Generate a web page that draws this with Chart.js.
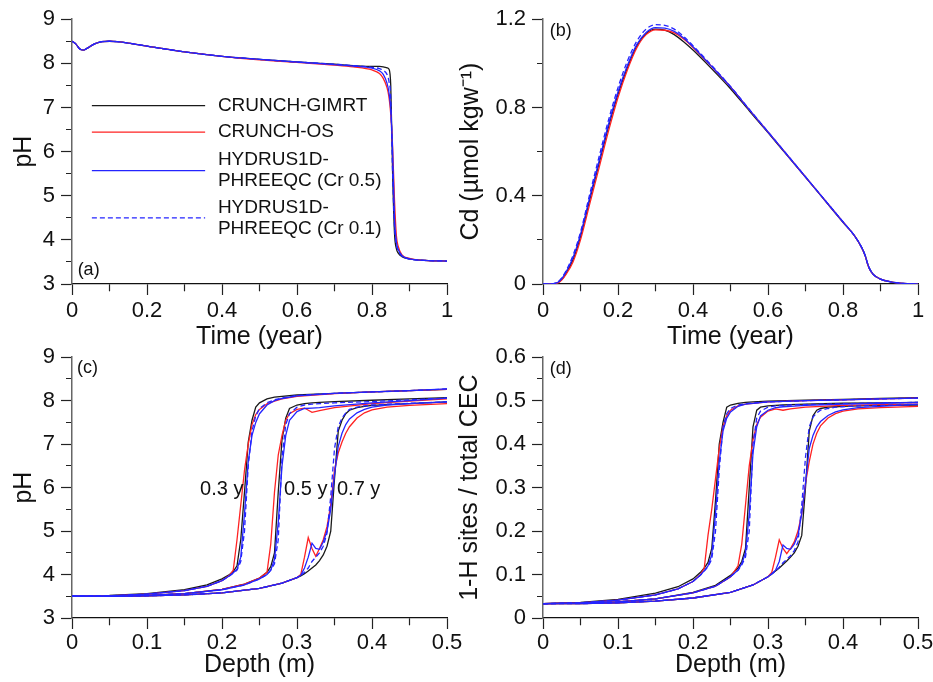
<!DOCTYPE html>
<html>
<head>
<meta charset="utf-8">
<script src="https://cdn.jsdelivr.net/npm/chart.js@4.4.1/dist/chart.umd.min.js"></script>
<style>
  html, body { margin: 0; padding: 0; background: #fff; width: 933px; height: 682px; overflow: hidden; }
  canvas { position: absolute; }
</style>
</head>
<body>
<canvas id="pa" width="466" height="352" style="left:0;top:0"></canvas>
<canvas id="pb" width="490" height="352" style="left:455px;top:0"></canvas>
<canvas id="pc" width="466" height="344" style="left:0;top:338px"></canvas>
<canvas id="pd" width="490" height="344" style="left:455px;top:338px"></canvas>
<script>
// ---- (a) pH vs time ----
const timeA = [0, 0.01, 0.02, 0.03, 0.04, 0.06, 0.08, 0.1, 0.12, 0.15, 0.2, 0.3, 0.4, 0.5, 0.6,
               0.7, 0.75, 0.8, 0.82, 0.83, 0.84, 0.845, 0.85, 0.855, 0.86, 0.865, 0.87, 0.88, 0.9, 0.95, 1.0];
const phA_gimrt = [8.50, 8.44, 8.33, 8.30, 8.34, 8.44, 8.49, 8.50, 8.49, 8.46, 8.39, 8.26, 8.16, 8.09, 8.03,
                   7.98, 7.95, 7.93, 7.93, 7.92, 7.90, 7.87, 7.5, 5.5, 4.15, 3.8, 3.7, 3.62, 3.57, 3.53, 3.52];
const phA_os    = [8.50, 8.44, 8.33, 8.30, 8.34, 8.44, 8.49, 8.50, 8.49, 8.46, 8.39, 8.26, 8.16, 8.08, 8.02,
                   7.96, 7.92, 7.85, 7.77, 7.66, 7.45, 7.25, 6.85, 6.1, 4.9, 4.1, 3.85, 3.66, 3.58, 3.53, 3.52];
const phA_cr05  = [8.50, 8.44, 8.33, 8.30, 8.34, 8.44, 8.49, 8.50, 8.49, 8.46, 8.39, 8.26, 8.16, 8.09, 8.03,
                   7.97, 7.94, 7.89, 7.83, 7.75, 7.55, 7.35, 6.95, 6.0, 4.5, 3.95, 3.78, 3.64, 3.57, 3.53, 3.52];
const phA_cr01  = [8.50, 8.44, 8.33, 8.30, 8.34, 8.44, 8.49, 8.50, 8.49, 8.46, 8.39, 8.26, 8.16, 8.09, 8.03,
                   7.98, 7.95, 7.91, 7.88, 7.84, 7.75, 7.6, 7.2, 5.5, 4.3, 3.9, 3.75, 3.63, 3.57, 3.53, 3.52];

// ---- (b) Cd vs time ----
const timeB = [0, 0.02, 0.03, 0.04, 0.05, 0.06, 0.08, 0.1, 0.125, 0.15, 0.175, 0.2, 0.225, 0.25, 0.275, 0.3,
               0.325, 0.35, 0.375, 0.4, 0.45, 0.5, 0.55, 0.6, 0.65, 0.7, 0.75, 0.8, 0.83, 0.85, 0.86, 0.865,
               0.87, 0.88, 0.9, 0.93, 0.96, 1.0];
const cdB_gimrt = [0, 0, 0.001, 0.006, 0.02, 0.045, 0.11, 0.215, 0.385, 0.55, 0.715, 0.86, 0.98, 1.078, 1.135, 1.155,
                   1.15, 1.13, 1.098, 1.06, 0.975, 0.885, 0.785, 0.686, 0.585, 0.484, 0.382, 0.28, 0.22, 0.165, 0.125, 0.095,
                   0.072, 0.045, 0.022, 0.009, 0.003, 0];
const cdB_os    = [0, 0, 0.001, 0.005, 0.018, 0.04, 0.1, 0.2, 0.365, 0.53, 0.695, 0.845, 0.97, 1.07, 1.13, 1.152,
                   1.15, 1.138, 1.11, 1.072, 0.985, 0.893, 0.79, 0.689, 0.587, 0.485, 0.383, 0.281, 0.22, 0.163, 0.123, 0.093,
                   0.07, 0.044, 0.022, 0.009, 0.003, 0];
const cdB_cr05  = [0, 0, 0.002, 0.008, 0.025, 0.05, 0.12, 0.225, 0.395, 0.56, 0.725, 0.87, 0.99, 1.085, 1.14, 1.162,
                   1.16, 1.145, 1.115, 1.075, 0.985, 0.893, 0.79, 0.689, 0.587, 0.485, 0.383, 0.281, 0.22, 0.165, 0.125, 0.095,
                   0.072, 0.045, 0.022, 0.009, 0.003, 0];
const cdB_cr01  = [0, 0, 0.003, 0.01, 0.028, 0.055, 0.13, 0.235, 0.41, 0.58, 0.745, 0.89, 1.01, 1.1, 1.155, 1.175,
                   1.172, 1.155, 1.122, 1.08, 0.99, 0.895, 0.792, 0.69, 0.588, 0.486, 0.384, 0.282, 0.22, 0.165, 0.125, 0.095,
                   0.072, 0.045, 0.022, 0.009, 0.003, 0];

// ---- depth grids for (c) and (d) ----
const depth03 = [0, 0.05, 0.1, 0.15, 0.18, 0.2, 0.21, 0.215, 0.22, 0.225, 0.23, 0.235, 0.24, 0.245, 0.25, 0.26,
                 0.27, 0.28, 0.3, 0.35, 0.4, 0.45, 0.5];
const depth05 = [0, 0.05, 0.1, 0.15, 0.2, 0.23, 0.25, 0.26, 0.265, 0.27, 0.275, 0.28, 0.285, 0.29, 0.3, 0.31,
                 0.32, 0.33, 0.35, 0.4, 0.45, 0.5];
const depth07 = [0, 0.05, 0.1, 0.15, 0.2, 0.25, 0.28, 0.3, 0.305, 0.31, 0.315, 0.32, 0.325, 0.33, 0.335, 0.34,
                 0.345, 0.35, 0.355, 0.36, 0.365, 0.37, 0.38, 0.39, 0.4, 0.42, 0.45, 0.5];

// ---- (c) pH profiles ----
const phC03_gimrt = [3.50, 3.52, 3.56, 3.65, 3.76, 3.90, 4.00, 4.07, 4.20, 4.8, 5.9, 7.05, 7.55, 7.85, 7.95, 8.04,
                     8.08, 8.10, 8.13, 8.17, 8.20, 8.23, 8.26];
const phC03_os    = [3.50, 3.51, 3.55, 3.63, 3.73, 3.86, 3.98, 4.10, 4.8, 5.6, 6.4, 7.0, 7.45, 7.68, 7.8, 7.93,
                     7.99, 8.04, 8.10, 8.16, 8.20, 8.23, 8.26];
const phC03_cr05  = [3.50, 3.51, 3.55, 3.63, 3.73, 3.86, 3.97, 4.04, 4.12, 4.4, 5.4, 6.6, 7.2, 7.5, 7.7, 7.9,
                     8.0, 8.05, 8.11, 8.17, 8.20, 8.23, 8.27];
const phC03_cr01  = [3.50, 3.51, 3.55, 3.63, 3.73, 3.86, 3.97, 4.03, 4.1, 4.3, 5.0, 6.5, 7.3, 7.65, 7.82, 7.95,
                     8.02, 8.06, 8.12, 8.17, 8.20, 8.23, 8.27];
const phC05_gimrt = [3.50, 3.50, 3.52, 3.56, 3.66, 3.78, 3.92, 4.05, 4.18, 4.5, 5.9, 7.1, 7.6, 7.82, 7.9, 7.93,
                     7.95, 7.96, 7.98, 8.01, 8.04, 8.07];
const phC05_os    = [3.50, 3.50, 3.52, 3.56, 3.66, 3.78, 3.92, 4.05, 4.7, 5.9, 6.75, 7.2, 7.55, 7.7, 7.8, 7.83,
                     7.73, 7.77, 7.84, 7.93, 7.99, 8.04];
const phC05_cr05  = [3.50, 3.50, 3.52, 3.56, 3.65, 3.76, 3.9, 4.0, 4.1, 4.35, 5.2, 6.5, 7.2, 7.55, 7.75, 7.82,
                     7.83, 7.84, 7.88, 7.95, 8.0, 8.06];
const phC05_cr01  = [3.50, 3.50, 3.52, 3.56, 3.65, 3.76, 3.9, 4.0, 4.1, 4.25, 4.8, 6.7, 7.45, 7.7, 7.85, 7.9,
                     7.92, 7.93, 7.95, 7.98, 8.02, 8.06];
const phC07_gimrt = [3.50, 3.50, 3.51, 3.53, 3.58, 3.68, 3.80, 3.93, 3.97, 4.02, 4.08, 4.15, 4.22, 4.32, 4.45, 4.65,
                     5.0, 6.2, 7.3, 7.55, 7.7, 7.78, 7.84, 7.87, 7.89, 7.91, 7.93, 7.97];
const phC07_os    = [3.50, 3.50, 3.51, 3.53, 3.58, 3.68, 3.80, 3.93, 4.0, 4.4, 4.85, 4.6, 4.42, 4.6, 4.8, 5.1,
                     5.6, 6.4, 6.8, 7.05, 7.25, 7.4, 7.6, 7.72, 7.79, 7.85, 7.89, 7.93];
const phC07_cr05  = [3.50, 3.50, 3.51, 3.53, 3.58, 3.68, 3.80, 3.93, 3.98, 4.15, 4.4, 4.72, 4.6, 4.58, 4.75, 5.0,
                     5.5, 6.3, 6.95, 7.25, 7.45, 7.58, 7.72, 7.8, 7.85, 7.9, 7.93, 7.97];
const phC07_cr01  = [3.50, 3.50, 3.51, 3.53, 3.58, 3.68, 3.80, 3.93, 3.98, 4.05, 4.15, 4.3, 4.4, 4.5, 4.65, 4.95,
                     5.8, 6.9, 7.4, 7.6, 7.72, 7.8, 7.85, 7.88, 7.9, 7.92, 7.94, 7.97];

// ---- (d) 1-H sites / total CEC profiles ----
const hD03_gimrt = [0.033, 0.036, 0.043, 0.057, 0.072, 0.090, 0.105, 0.115, 0.128, 0.16, 0.27, 0.40, 0.45, 0.485, 0.49, 0.494,
                    0.496, 0.497, 0.499, 0.501, 0.503, 0.505, 0.507];
const hD03_os    = [0.033, 0.035, 0.041, 0.053, 0.067, 0.084, 0.100, 0.115, 0.19, 0.25, 0.32, 0.39, 0.44, 0.465, 0.478, 0.488,
                    0.492, 0.494, 0.497, 0.500, 0.502, 0.504, 0.506];
const hD03_cr05  = [0.033, 0.035, 0.041, 0.053, 0.067, 0.084, 0.099, 0.109, 0.12, 0.145, 0.24, 0.36, 0.43, 0.46, 0.474, 0.487,
                    0.492, 0.494, 0.497, 0.500, 0.502, 0.504, 0.506];
const hD03_cr01  = [0.033, 0.035, 0.041, 0.053, 0.067, 0.084, 0.099, 0.108, 0.118, 0.135, 0.2, 0.34, 0.44, 0.47, 0.482, 0.49,
                    0.493, 0.495, 0.497, 0.500, 0.502, 0.504, 0.506];
const hD05_gimrt = [0.033, 0.034, 0.037, 0.044, 0.059, 0.075, 0.098, 0.115, 0.13, 0.16, 0.30, 0.44, 0.478, 0.485, 0.488, 0.489,
                    0.49, 0.491, 0.492, 0.494, 0.495, 0.496];
const hD05_os    = [0.033, 0.034, 0.037, 0.044, 0.058, 0.073, 0.094, 0.12, 0.17, 0.26, 0.35, 0.41, 0.445, 0.462, 0.476, 0.481,
                    0.478, 0.481, 0.485, 0.489, 0.491, 0.492];
const hD05_cr05  = [0.033, 0.034, 0.037, 0.044, 0.058, 0.073, 0.095, 0.11, 0.125, 0.15, 0.24, 0.38, 0.44, 0.465, 0.478, 0.484,
                    0.486, 0.487, 0.489, 0.492, 0.494, 0.496];
const hD05_cr01  = [0.033, 0.034, 0.037, 0.044, 0.058, 0.073, 0.095, 0.11, 0.122, 0.14, 0.2, 0.4, 0.46, 0.476, 0.485, 0.488,
                    0.489, 0.49, 0.491, 0.493, 0.495, 0.496];
const hD07_gimrt = [0.033, 0.033, 0.035, 0.039, 0.046, 0.059, 0.076, 0.095, 0.101, 0.108, 0.115, 0.123, 0.131, 0.14, 0.15, 0.165,
                    0.19, 0.30, 0.43, 0.465, 0.478, 0.482, 0.485, 0.486, 0.487, 0.488, 0.489, 0.49];
const hD07_os    = [0.033, 0.033, 0.035, 0.039, 0.046, 0.059, 0.076, 0.095, 0.105, 0.14, 0.18, 0.16, 0.148, 0.16, 0.175, 0.2,
                    0.24, 0.31, 0.36, 0.40, 0.425, 0.442, 0.46, 0.47, 0.476, 0.481, 0.484, 0.487];
const hD07_cr05  = [0.033, 0.033, 0.035, 0.039, 0.046, 0.059, 0.076, 0.095, 0.102, 0.11, 0.13, 0.168, 0.16, 0.158, 0.17, 0.19,
                    0.24, 0.31, 0.39, 0.42, 0.44, 0.452, 0.466, 0.474, 0.479, 0.484, 0.487, 0.492];
const hD07_cr01  = [0.033, 0.033, 0.035, 0.039, 0.046, 0.059, 0.076, 0.095, 0.101, 0.108, 0.117, 0.127, 0.135, 0.143, 0.155, 0.175,
                    0.26, 0.37, 0.44, 0.462, 0.472, 0.478, 0.482, 0.485, 0.486, 0.488, 0.489, 0.491];

const modelNames = [["CRUNCH-GIMRT"], ["CRUNCH-OS"], ["HYDRUS1D-", "PHREEQC (Cr 0.5)"], ["HYDRUS1D-", "PHREEQC (Cr 0.1)"]];

// ---- styling ----
const FONT = "'Liberation Sans', Arial, Helvetica, sans-serif";
Chart.defaults.font.family = FONT;
Chart.defaults.color = "#111";

const STYLES = [
    { color: "#1a1a1a", dash: [],     order: 3 },   // GIMRT
    { color: "#ff2222", dash: [],     order: 2 },   // OS
    { color: "#2424ff", dash: [],     order: 0 },   // Cr 0.5
    { color: "#2424ff", dash: [5, 3], order: 1 },   // Cr 0.1
];

function series(xs, ys, k, smooth) {
    const s = STYLES[k];
    return {
        data: xs.map((x, i) => ({ x, y: ys[i] })),
        borderColor: s.color, borderDash: s.dash, order: s.order,
        borderWidth: 1.3, pointRadius: 0, fill: false,
        cubicInterpolationMode: smooth ? "monotone" : "default", tension: 0,
    };
}

const isMul = (v, m) => Math.abs(v / m - Math.round(v / m)) < 1e-6;
const fmt = v => String(Math.round(v * 1000) / 1000);

function xScale(max, step, major, height, title, labelPad, titlePad) {
    return {
        type: "linear", min: 0, max,
        afterFit: s => { s.height = height; },
        ticks: { stepSize: step, autoSkip: false, maxRotation: 0, padding: labelPad, color: "#111",
                 font: { size: 22 }, callback: v => (isMul(v, major) ? fmt(v) : "") },
        grid: { drawOnChartArea: false, tickLength: 11, tickWidth: 1.2, tickColor: "#222",
                tickBorderDash: c => (c.tick && !isMul(c.tick.value, major) ? [7, 100] : []) },
        border: { color: "#111", width: 1.3 },
        title: { display: true, text: title, color: "#111", font: { size: 25 },
                 padding: { top: 0, bottom: titlePad } },
    };
}

function yScale(min, max, step, major, width, title, titlePad) {
    return {
        type: "linear", min, max,
        afterFit: s => { s.width = width; },
        ticks: { stepSize: step, autoSkip: false, padding: 6, color: "#111",
                 font: { size: 22 }, callback: v => (isMul(v, major) ? fmt(v) : "") },
        grid: { drawOnChartArea: false, tickLength: 11, tickWidth: 1.2, tickColor: "#222",
                tickBorderDash: c => (c.tick && !isMul(c.tick.value, major) ? [0, 5, 7, 100] : []) },
        border: { color: "#666", width: 1.5 },
        title: { display: true, text: title, color: "#111", font: { size: 25 },
                 padding: { top: titlePad, bottom: 0 } },
    };
}

// text notes and the hand-drawn legend, placed in data units
const notesPlugin = {
    id: "notes",
    afterDatasetsDraw(chart, args, opts) {
        const { ctx, scales: { x, y } } = chart;
        ctx.save();
        ctx.fillStyle = "#111";
        ctx.textAlign = "left";
        ctx.textBaseline = "middle";
        for (const n of opts.items || []) {
            ctx.font = `${n.size}px ${FONT}`;
            ctx.fillText(n.text, x.getPixelForValue(n.x), y.getPixelForValue(n.y));
        }
        const lg = opts.legend;
        if (lg) {
            const x0 = x.getPixelForValue(lg.x0), x1 = x.getPixelForValue(lg.x1), xt = x.getPixelForValue(lg.xt);
            ctx.font = `19px ${FONT}`;
            lg.rows.forEach((yv, k) => {
                const py = y.getPixelForValue(yv);
                ctx.save();
                ctx.strokeStyle = STYLES[k].color;
                ctx.lineWidth = 1.2;
                ctx.setLineDash(STYLES[k].dash);
                ctx.beginPath(); ctx.moveTo(x0, py); ctx.lineTo(x1, py); ctx.stroke();
                ctx.restore();
                const lines = modelNames[k];
                lines.forEach((t, j) => {
                    const off = (j - (lines.length - 1) / 2) * 21;
                    ctx.fillText(t, xt, py + off);
                });
            });
        }
        ctx.restore();
    },
};

function makeChart(id, datasets, pad, scales, notes) {
    new Chart(document.getElementById(id), {
        type: "line",
        data: { datasets },
        options: {
            responsive: false, animation: false, devicePixelRatio: 1,
            layout: { padding: pad },
            plugins: { legend: { display: false }, tooltip: { enabled: false }, notes },
            scales,
        },
        plugins: [notesPlugin],
    });
}

// (a)
makeChart("pa",
    [phA_gimrt, phA_os, phA_cr05, phA_cr01].map((ys, k) => series(timeA, ys, k, true)),
    { top: 18, right: 19, left: 0, bottom: 0 },
    { x: xScale(1, 0.1, 0.2, 68, "Time (year)", 3, 0),
      y: yScale(3, 9, 0.5, 1, 72, "pH", 9) },
    { items: [{ text: "(a)", x: 0.015, y: 3.32, size: 18 }],
      legend: { x0: 0.053, x1: 0.355, xt: 0.389, rows: [7.04, 6.44, 5.57, 4.50] } });

// (b)
makeChart("pb",
    [cdB_gimrt, cdB_os, cdB_cr05, cdB_cr01].map((ys, k) => series(timeB, ys, k, true)),
    { top: 19, right: 27, left: 0, bottom: 0 },
    { x: xScale(1, 0.1, 0.2, 68, "Time (year)", 3, 0),
      y: yScale(0, 1.2, 0.2, 0.4, 88, "Cd (µmol kgw⁻¹)", 1) },
    { items: [{ text: "(b)", x: 0.018, y: 1.148, size: 18 }] });

// (c)
const cSets = [];
[[depth03, [phC03_gimrt, phC03_os, phC03_cr05, phC03_cr01]],
 [depth05, [phC05_gimrt, phC05_os, phC05_cr05, phC05_cr01]],
 [depth07, [phC07_gimrt, phC07_os, phC07_cr05, phC07_cr01]]]
    .forEach(([xs, list]) => list.forEach((ys, k) => cSets.push(series(xs, ys, k, false))));
makeChart("pc", cSets,
    { top: 15, right: 19, left: 0, bottom: 0 },
    { x: xScale(0.5, 0.05, 0.1, 64, "Depth (m)", 1, 2),
      y: yScale(3, 9, 0.5, 1, 72, "pH", 9) },
    { items: [{ text: "(c)", x: 0.0067, y: 8.74, size: 18 },
              { text: "0.3 y", x: 0.1707, y: 5.95, size: 20 },
              { text: "0.5 y", x: 0.2827, y: 5.95, size: 20 },
              { text: "0.7 y", x: 0.3533, y: 5.95, size: 20 }] });

// (d)
const dSets = [];
[[depth03, [hD03_gimrt, hD03_os, hD03_cr05, hD03_cr01]],
 [depth05, [hD05_gimrt, hD05_os, hD05_cr05, hD05_cr01]],
 [depth07, [hD07_gimrt, hD07_os, hD07_cr05, hD07_cr01]]]
    .forEach(([xs, list]) => list.forEach((ys, k) => dSets.push(series(xs, ys, k, false))));
makeChart("pd", dSets,
    { top: 15, right: 27, left: 0, bottom: 0 },
    { x: xScale(0.5, 0.05, 0.1, 64, "Depth (m)", 1, 2),
      y: yScale(0, 0.6, 0.05, 0.1, 88, "1-H sites / total CEC", 0) },
    { items: [{ text: "(d)", x: 0.009, y: 0.573, size: 18 }] });
</script>
</body>
</html>
